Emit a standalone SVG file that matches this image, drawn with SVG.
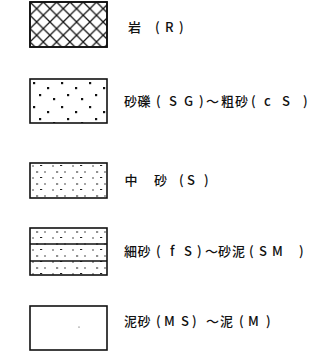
<svg xmlns="http://www.w3.org/2000/svg" width="331" height="351" viewBox="0 0 331 351">
<style>
.box{fill:#fff;stroke:#111;stroke-width:1.6}
.sep{stroke:#111;stroke-width:1.3;fill:none}
.lbl{font-family:"Noto Sans CJK JP","Noto Sans",sans-serif;font-size:13px;font-weight:500;fill:#111}
</style>
<defs>
<pattern id="cross" patternUnits="userSpaceOnUse" x="30" y="2" width="13.3" height="13.3">
<path d="M-1,-1 L14.3,14.3 M-1,14.3 L14.3,-1" stroke="#111" stroke-width="1.3" fill="none"/>
</pattern>
<pattern id="coarse" patternUnits="userSpaceOnUse" x="30" y="79" width="28" height="24">
<rect x="3" y="3" width="2.2" height="2.2" fill="#111"/>
<rect x="17" y="8" width="2.2" height="2.2" fill="#111"/>
<rect x="9" y="15" width="2.2" height="2.2" fill="#111"/>
<rect x="23" y="19" width="2.2" height="2.2" fill="#111"/>
</pattern>
<pattern id="fine" patternUnits="userSpaceOnUse" x="30" y="163" width="20" height="12">
<circle cx="3" cy="3" r="0.75" fill="#222"/>
<rect x="10" y="2" width="2.2" height="1" fill="#222"/>
<circle cx="15" cy="9" r="0.75" fill="#222"/>
<rect x="6" y="8.5" width="2.2" height="1" fill="#222"/>
</pattern>
</defs>
<g id="rock">
<rect class="box" x="30" y="2" width="77" height="45" style="fill:url(#cross)"/>
<rect class="box" x="30" y="2" width="77" height="45" style="fill:none"/>
<text class="lbl" x="128 141 155 165 179" y="31.5">岩 (R)</text>
</g>
<g id="gravel">
<rect class="box" x="30" y="79" width="77" height="44" style="fill:url(#coarse)"/>
<text class="lbl" x="124 137.5 156 169 177 184 199 206 221 235 251 264 272 282 303" y="106">砂礫(S G)～粗砂(c S)</text>
</g>
<g id="medium-sand">
<rect class="box" x="30" y="163" width="77" height="35" style="fill:url(#fine)"/>
<text class="lbl" x="124.5 137 154 167 179 187 204" y="185">中 砂 (S)</text>
</g>
<g id="fine-sand">
<rect class="box" x="30" y="228" width="77" height="47" style="fill:url(#fine)"/>
<line class="sep" x1="30" y1="244" x2="107" y2="244"/>
<line class="sep" x1="30" y1="261" x2="107" y2="261"/>
<text class="lbl" x="124 137.5 156 170 176 184 197 205 218 232 249 259 267 272 299" y="256">細砂(f S)～砂泥(S M)</text>
</g>
<g id="mud">
<rect class="box" x="30" y="306" width="77" height="44"/>
<circle cx="79" cy="327" r="0.6" fill="#333"/>
<text class="lbl" x="124 137.5 156 164 175 181 192 206 220 239 248 266" y="326">泥砂(M S)～泥(M)</text>
</g>
<g id="connectors"/>
</svg>
